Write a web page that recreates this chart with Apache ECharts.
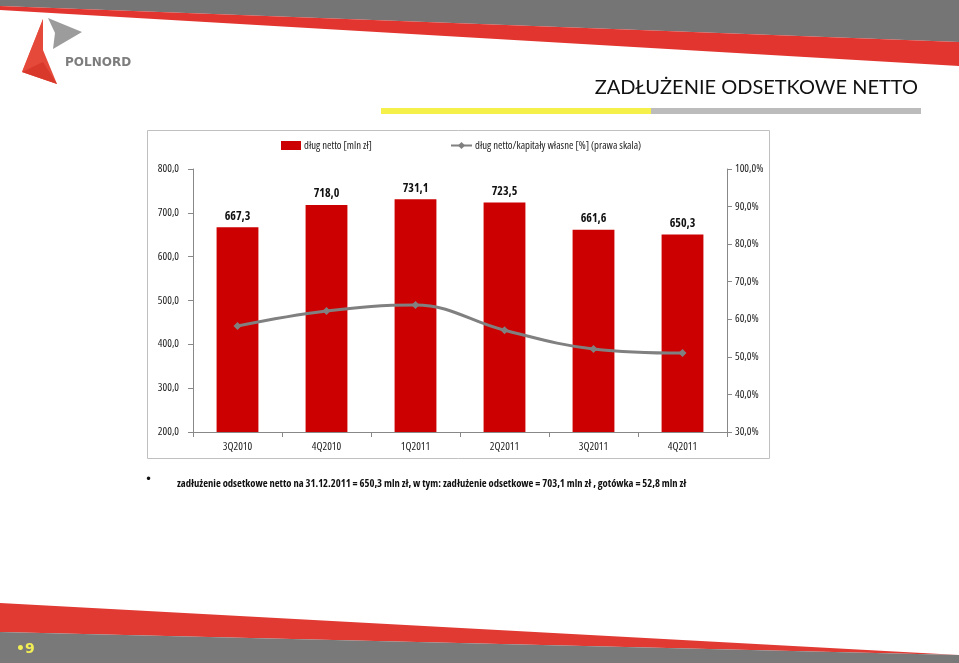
<!DOCTYPE html>
<html><head><meta charset="utf-8">
<script src="https://cdn.jsdelivr.net/npm/echarts@6/dist/echarts.min.js"></script>
<style>html,body{margin:0;padding:0;background:#fff}#c{width:959px;height:663px}</style>
</head><body><div id="c"></div>
<script>
const categories = ['3Q2010','4Q2010','1Q2011','2Q2011','3Q2011','4Q2011'];
const netDebt = [667.3, 718.0, 731.1, 723.5, 661.6, 650.3];
const debtToEquity = [58.2, 62.2, 63.8, 57.1, 52.1, 51.0];
const leftTicks = {min: 200, max: 800, interval: 100};
const rightTicks = {min: 30, max: 100, interval: 10};
const seriesNames = ['dług netto [mln zł]', 'dług netto/kapitały własne [%] (prawa skala)'];
const titleText = 'ZADŁUŻENIE ODSETKOWE NETTO';
const noteText = 'zadłużenie odsetkowe netto na 31.12.2011 = 650,3 mln zł, w tym: zadłużenie odsetkowe = 703,1 mln zł , gotówka = 52,8 mln zł';

const NF = "'Open Sans', sans-serif";
const CS = 'condensed';
const fmt1 = v => v.toFixed(1).replace('.', ',');
const lbl = (size, extra) => Object.assign({fontFamily: NF, fontStyle: CS, fontSize: size, color: '#222'}, extra || {});

const chart = echarts.init(document.getElementById('c'), null, {renderer: 'canvas'});
chart.setOption({
  animation: false,
  backgroundColor: '#fff',
  textStyle: {fontFamily: NF},
  grid: {left: 193, right: 232, top: 169, bottom: 231, containLabel: false},
  legend: [
    {left: 281, top: 140, padding: 0, itemWidth: 20, itemHeight: 9, itemGap: 4,
     textStyle: lbl(10.7, {padding: [0,0,0,-2]}),
     data: [{name: seriesNames[0], icon: 'rect'}]},
    {left: 450, top: 140, padding: 0, itemWidth: 21, itemHeight: 9, itemGap: 4,
     textStyle: lbl(10.7, {padding: [0,0,0,-2]}),
     data: [{name: seriesNames[1]}]}
  ],
  xAxis: {
    type: 'category', data: categories,
    axisLine: {lineStyle: {color: '#888'}},
    axisTick: {show: true, length: 5, lineStyle: {color: '#888'}},
    axisLabel: lbl(11, {margin: 9})
  },
  yAxis: [
    {type: 'value', min: leftTicks.min, max: leftTicks.max, interval: leftTicks.interval,
     splitLine: {show: false},
     axisLine: {show: true, lineStyle: {color: '#888'}},
     axisTick: {show: true, length: 5, lineStyle: {color: '#888'}},
     axisLabel: lbl(11, {margin: 14, formatter: v => fmt1(v)})},
    {type: 'value', min: rightTicks.min, max: rightTicks.max, interval: rightTicks.interval,
     splitLine: {show: false},
     axisLine: {show: true, lineStyle: {color: '#888'}},
     axisTick: {show: true, length: 5, lineStyle: {color: '#888'}},
     axisLabel: lbl(11, {margin: 8, formatter: v => fmt1(v) + '%'})}
  ],
  series: [
    {name: seriesNames[0], type: 'bar', data: netDebt, barWidth: '47%',
     itemStyle: {color: '#cc0000'},
     label: {show: true, position: 'top', distance: 5, fontFamily: NF, fontStyle: CS, fontSize: 12, fontWeight: 'bold', color: '#111', formatter: p => fmt1(p.value)}},
    {name: seriesNames[1], type: 'line', yAxisIndex: 1, data: debtToEquity, smooth: 0.4,
     symbol: 'diamond', symbolSize: 8, showSymbol: true,
     lineStyle: {color: '#808080', width: 3}, itemStyle: {color: '#808080'}}
  ],
  graphic: [
    {type: 'polygon', shape: {points: [[0,0],[959,0],[959,42],[0,6]]}, style: {fill: '#757575'}, silent: true},
    {type: 'polygon', shape: {points: [[0,6],[959,42],[959,66],[0,10]]}, style: {fill: '#e3352f'}, silent: true},
    {type: 'polygon', shape: {points: [[0,603],[959,655],[0,632]]}, style: {fill: '#e03a33'}, silent: true},
    {type: 'polygon', shape: {points: [[0,632],[959,655],[959,663],[0,663]]}, style: {fill: '#797979'}, silent: true},
    {type: 'polygon', shape: {points: [[43,19],[22,72],[43,50]]}, style: {fill: '#ee6a55'}, silent: true},
    {type: 'polygon', shape: {points: [[43,19],[43,50],[57,84],[22,72]]}, style: {fill: '#e5493a'}, silent: true},
    {type: 'polygon', shape: {points: [[22,72],[43,62],[57,84]]}, style: {fill: '#d9392b'}, silent: true},
    {type: 'polygon', shape: {points: [[48,18],[82,32],[53,49],[55,33]]}, style: {fill: '#9c9c9c'}, silent: true},
    {type: 'text', left: 65, top: 57, style: {text: 'POLNORD', font: "bold 12px 'DejaVu Sans', sans-serif", fill: '#7d7d7d'}, silent: true},
    {type: 'text', right: 41, top: 78, style: {text: titleText, font: "20px Lato, 'Open Sans', sans-serif", fill: '#111'}, silent: true},
    {type: 'rect', shape: {x: 381, y: 108, width: 270, height: 6}, style: {fill: '#f5f04a'}, silent: true},
    {type: 'rect', shape: {x: 651, y: 108, width: 270, height: 6}, style: {fill: '#bcbcbc'}, silent: true},
    {type: 'rect', shape: {x: 147.5, y: 130.5, width: 622, height: 328}, style: {fill: 'none', stroke: '#c0c0c0', lineWidth: 1}, silent: true, z: -1},
    {type: 'text', left: 145, top: 474, style: {text: '•', font: "12px 'DejaVu Sans', sans-serif", fill: '#111'}, silent: true},
    {type: 'text', left: 177, top: 478, style: {text: noteText, font: "condensed bold 10.6px 'Open Sans', sans-serif", fill: '#111'}, silent: true},
    {type: 'text', left: 16, top: 642, style: {text: '•9', font: "bold 14px 'DejaVu Sans', sans-serif", fill: '#f2ee55'}, silent: true}
  ]
});
</script></body></html>
